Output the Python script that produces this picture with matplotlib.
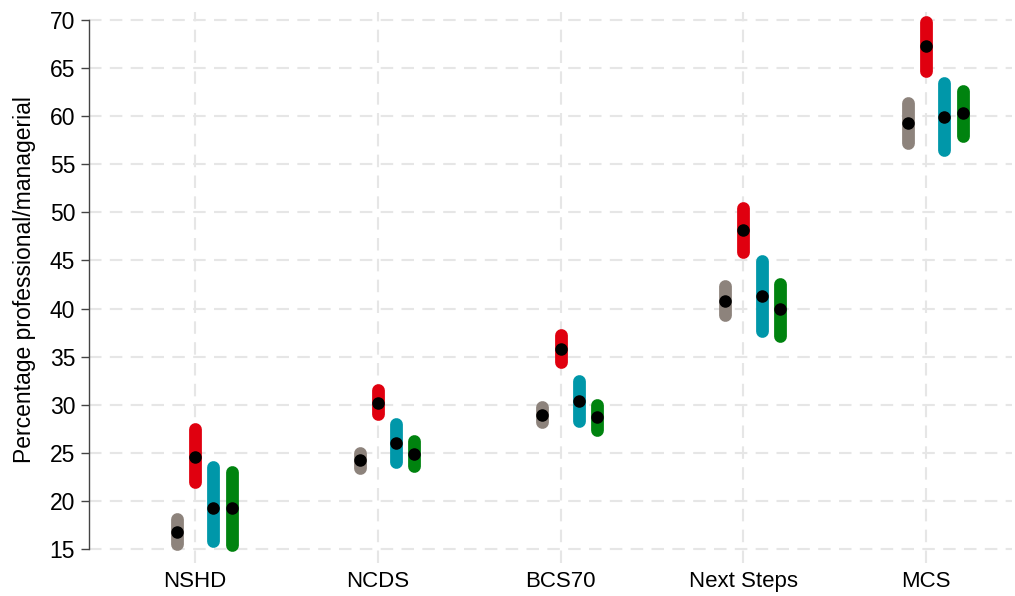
import matplotlib
matplotlib.use("Agg")
import matplotlib.pyplot as plt
import numpy as np

plt.rcParams['font.family'] = ['Liberation Sans', 'DejaVu Sans']

cohorts = ["NSHD", "NCDS", "BCS70", "Next Steps", "MCS"]
yticks = [15, 20, 25, 30, 35, 40, 45, 50, 55, 60, 65, 70]

# series: estimate, lower CI, upper CI per cohort
gray_est = [16.8, 24.2, 28.95, 40.8, 59.3]
gray_lo = [15.5, 23.4, 28.15, 39.3, 57.2]
gray_hi = [18.1, 25.0, 29.8, 42.35, 61.4]

red_est = [24.6, 30.2, 35.8, 48.2, 67.3]
red_lo = [22.0, 29.0, 34.45, 45.85, 64.7]
red_hi = [27.5, 31.5, 37.2, 50.4, 69.8]

blue_est = [19.3, 26.0, 30.4, 41.3, 59.95]
blue_lo = [15.8, 24.0, 28.3, 37.7, 56.5]
blue_hi = [23.5, 28.0, 32.5, 44.95, 63.4]

green_est = [19.25, 24.9, 28.7, 39.9, 60.3]
green_lo = [15.45, 23.6, 27.4, 37.1, 57.9]
green_hi = [23.05, 26.2, 30.0, 42.6, 62.6]

series = [
    (gray_est, gray_lo, gray_hi, "#8d837c", -0.1),
    (red_est, red_lo, red_hi, "#e0000f", 0.0),
    (blue_est, blue_lo, blue_hi, "#0097a9", 0.1),
    (green_est, green_lo, green_hi, "#00830f", 0.2),
]

fig = plt.figure(figsize=(10.15, 5.96), dpi=100)
ax = fig.add_axes([89/1015, 33/596, (1012-89)/1015, (563-12)/596])

x = np.arange(len(cohorts))
for est, lo, hi, col, off in series:
    for i in range(len(cohorts)):
        ax.plot([x[i] + off, x[i] + off], [lo[i], hi[i]], color=col, lw=9.2,
                solid_capstyle='round', zorder=3, clip_on=False)
    ax.plot(x + off, est, 'o', color='black', ms=8, zorder=4, clip_on=False)

ax.set_xlim(-0.58, 4.47)
ax.set_ylim(13.54, 70.83)
ax.set_xticks(x)
ax.set_xticklabels(cohorts, fontsize=16)
ax.set_yticks(yticks)
ax.set_yticklabels([str(v) for v in yticks], fontsize=16.5)
ax.set_ylabel("Percentage professional/managerial", fontsize=16.5)
ax.yaxis.set_label_coords(-0.0574, 0.514)

for s in ['top', 'right', 'bottom']:
    ax.spines[s].set_visible(False)
ax.spines['left'].set_bounds(15, 70)
ax.spines['left'].set_color('#444444')
ax.spines['left'].set_linewidth(1.0)
ax.tick_params(axis='y', length=6, width=1.0, color='#444444', pad=4)
ax.tick_params(axis='x', length=0, pad=6)

ax.grid(True, color='#e6e6e6', linestyle=(0, (6, 4)), linewidth=1.5, zorder=0)
ax.set_axisbelow(True)

fig.savefig("out.png", dpi=100, facecolor='white')
